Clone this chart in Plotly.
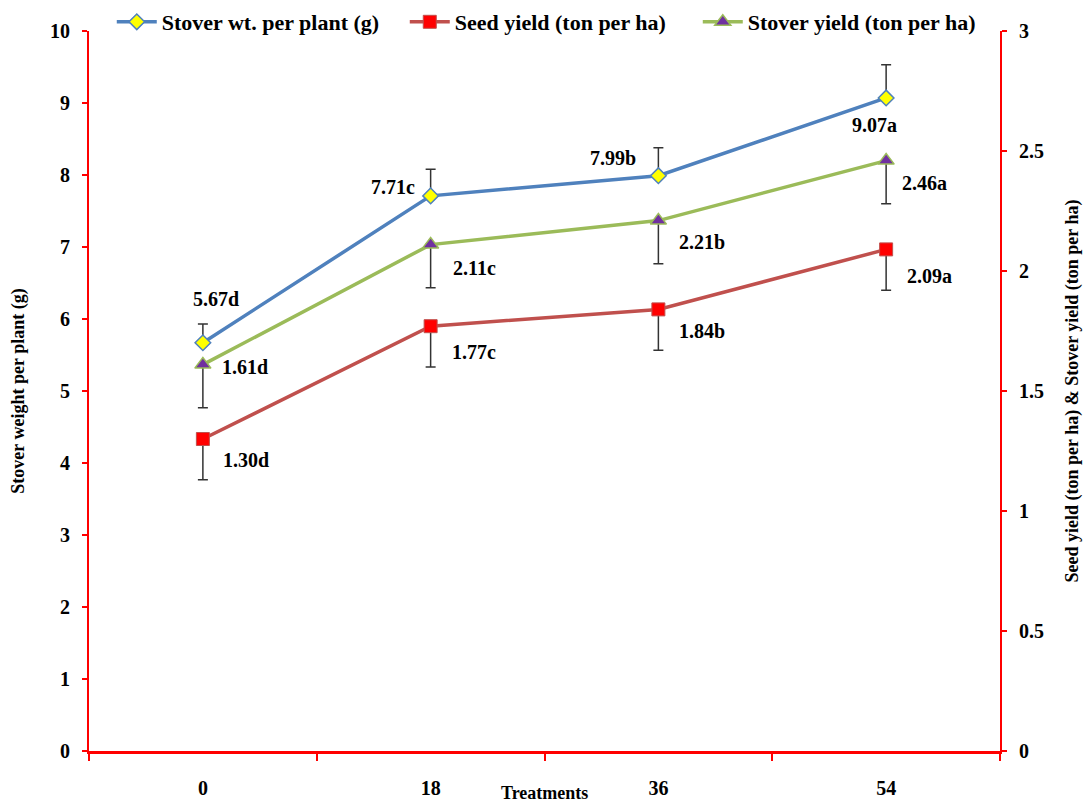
import plotly.graph_objects as go

# Nitrogen treatments (x categories)
treatments = ["0", "18", "36", "54"]

# Stover weight per plant (g) -> left axis
stover_wt = [5.67, 7.71, 7.99, 9.07]
stover_wt_err = [0.26, 0.37, 0.39, 0.46]
stover_wt_lbl = ["5.67d", "7.71c", "7.99b", "9.07a"]

# Seed yield (ton per ha) -> right axis
seed_yield = [1.30, 1.77, 1.84, 2.09]
seed_yield_err = [0.17, 0.17, 0.17, 0.17]
seed_yield_lbl = ["1.30d", "1.77c", "1.84b", "2.09a"]

# Stover yield (ton per ha) -> right axis
stover_yield = [1.61, 2.11, 2.21, 2.46]
stover_yield_err = [0.18, 0.18, 0.18, 0.18]
stover_yield_lbl = ["1.61d", "2.11c", "2.21b", "2.46a"]

x = list(range(len(treatments)))
FONT = "'Liberation Serif', 'Times New Roman', serif"
ERR_COLOR = "#333333"

fig = go.Figure()

fig.add_trace(go.Scatter(
    x=x, y=stover_wt, name="Stover wt. per plant (g)", mode="lines+markers",
    line=dict(color="#4F81BD", width=3.5),
    marker=dict(symbol="diamond", size=12, color="#FFFF00", line=dict(color="#4F81BD", width=1.5)),
    error_y=dict(type="data", array=stover_wt_err, arrayminus=[0] * 4, symmetric=False,
                 color=ERR_COLOR, thickness=1.5, width=5),
    yaxis="y",
))
fig.add_trace(go.Scatter(
    x=x, y=seed_yield, name="Seed yield (ton per ha)", mode="lines+markers",
    line=dict(color="#C0504D", width=3.5),
    marker=dict(symbol="square", size=13, color="#FF0000", line=dict(color="#C0504D", width=1)),
    error_y=dict(type="data", array=[0] * 4, arrayminus=seed_yield_err, symmetric=False,
                 color=ERR_COLOR, thickness=1.5, width=5),
    yaxis="y2",
))
fig.add_trace(go.Scatter(
    x=x, y=stover_yield, name="Stover yield (ton per ha)", mode="lines+markers",
    line=dict(color="#9BBB59", width=3.5),
    marker=dict(symbol="triangle-up", size=14, color="#7030A0", line=dict(color="#9BBB59", width=1.5)),
    error_y=dict(type="data", array=[0] * 4, arrayminus=stover_yield_err, symmetric=False,
                 color=ERR_COLOR, thickness=1.5, width=5),
    yaxis="y2",
))

lblfont = dict(family=FONT, size=20, color="black", weight="bold")

# value labels, offset in pixels from their points
wt_shift = [(13, 44), (-38, 9), (-45, 18), (-12, -27)]
sy_shift = [(42, -2), (44, -23), (44, -21), (38, -22)]
sd_shift = [(43, -21), (43, -26), (44, -22), (43, -27)]
for i in range(4):
    fig.add_annotation(x=x[i], y=stover_wt[i], yref="y", text=stover_wt_lbl[i], showarrow=False,
                       xshift=wt_shift[i][0], yshift=wt_shift[i][1], font=lblfont)
    fig.add_annotation(x=x[i], y=stover_yield[i], yref="y2", text=stover_yield_lbl[i], showarrow=False,
                       xshift=sy_shift[i][0], yshift=sy_shift[i][1], font=lblfont)
    fig.add_annotation(x=x[i], y=seed_yield[i], yref="y2", text=seed_yield_lbl[i], showarrow=False,
                       xshift=sd_shift[i][0], yshift=sd_shift[i][1], font=lblfont)

fig.add_annotation(x=0.5, y=-0.058, xref="paper", yref="paper", text="Treatments",
                   showarrow=False, xanchor="center", yanchor="middle",
                   font=dict(family=FONT, size=18, color="black", weight="bold"))

tickfont = dict(family=FONT, size=20, color="black", weight="bold")
titlefont = dict(family=FONT, size=18, color="black", weight="bold")
fig.update_layout(
    width=1088, height=805,
    margin=dict(l=89, r=88, t=31, b=54, autoexpand=False),
    paper_bgcolor="white", plot_bgcolor="white",
    showlegend=True,
    legend=dict(orientation="h", x=0.025, y=1.0125, xanchor="left", yanchor="middle",
                font=dict(family=FONT, size=22, color="black", weight="bold"), traceorder="normal",
                itemwidth=40, entrywidth=238, bgcolor="rgba(0,0,0,0)"),
    xaxis=dict(
        range=[-0.5, 3.5], tickmode="array", tickvals=x, ticktext=treatments,
        ticks="outside", ticklen=0, tickfont=tickfont, ticklabelstandoff=17,
        showline=True, linecolor="#FF0000", linewidth=3, showgrid=False, zeroline=False,
        minor=dict(tickmode="array", tickvals=[-0.5, 0.5, 1.5, 2.5, 3.5], ticks="outside",
                   ticklen=7, tickcolor="#FF0000", tickwidth=2, showgrid=False),
    ),
    yaxis=dict(
        range=[0, 10], dtick=1, ticks="outside", ticklen=5, tickcolor="#FF0000", tickwidth=2,
        tickfont=tickfont, showline=True, linecolor="#FF0000", linewidth=2,
        showgrid=False, zeroline=False, ticklabelstandoff=8,
        title=dict(text="Stover weight per plant (g)", font=titlefont, standoff=21),
    ),
    yaxis2=dict(
        range=[0, 3], dtick=0.5, overlaying="y", side="right", ticks="outside", ticklen=5,
        tickcolor="#FF0000", tickwidth=2, tickfont=tickfont, showline=True, linecolor="#FF0000",
        linewidth=2, showgrid=False, zeroline=False, ticklabelstandoff=8,
        title=dict(text="Seed yield (ton per ha) & Stover yield (ton per ha)",
                   font=titlefont, standoff=22),
    ),
)

fig.write_html("out.html")
